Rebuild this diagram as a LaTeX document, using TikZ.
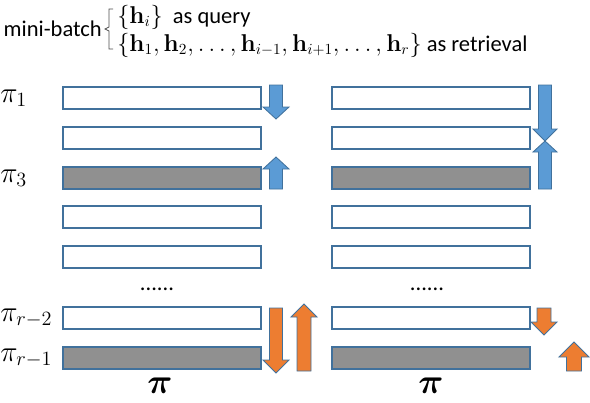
\documentclass[tikz,border=0pt]{standalone}
\usepackage{amsmath}
\usepackage{amssymb}
\usepackage{bm}
\usepackage[no-math]{fontspec}
\setmainfont{Carlito}
\usepackage{tikz}
\usetikzlibrary{positioning}
\definecolor{barblue}{RGB}{65,113,156}
\definecolor{arrowblue}{RGB}{91,155,213}
\definecolor{arroworange}{RGB}{237,125,49}
\definecolor{bargray}{RGB}{144,144,144}

% block arrow: style, x, y of tail, y of head base, y of tip, half shaft, half head
\newcommand{\blockarrow}[7]{%
  \draw[#1] (#2-#6,#3) -- (#2+#6,#3) -- (#2+#6,#4) -- (#2+#7,#4) -- (#2,#5)
    -- (#2-#7,#4) -- (#2-#6,#4) -- cycle;}

\begin{document}
\begin{tikzpicture}[
    x=0.025cm, y=-0.025cm,
    bar/.style={rectangle, draw=barblue, line width=1.4pt, fill=white, minimum width=4.95cm, minimum height=0.53cm, inner sep=0pt},
    dark/.style={bar, fill=bargray},
    perm/.style={font=\fontsize{21}{23}\selectfont, anchor=west, inner sep=0pt},
    txt/.style={font=\fontsize{16}{18}\selectfont, inner sep=0pt},
    barrow/.style={draw=barblue, line width=0.6pt, fill=arrowblue},
    oarrow/.style={draw=barblue, line width=0.6pt, fill=arroworange}
]
\useasboundingbox (0,0) rectangle (590,402);

% ============ mini-batch ============
\node[txt, anchor=east] (batch) at (102,29) {mini-batch};
\draw[black!70, line width=0.5pt] (113,9) -- (109,9) -- (109,27) -- (105,29) -- (109,31) -- (109,49) -- (113,49);
\node[txt, anchor=west] (query) at (117,17) {$\{\mathbf{h}_i\}$\ \ as query};
\node[txt, anchor=west] (retr) at (117,45) {$\{\mathbf{h}_1,\mathbf{h}_2,\ldots,\mathbf{h}_{i-1},\mathbf{h}_{i+1},\ldots,\mathbf{h}_r\}$ as retrieval};

% ============ labels ============
\node[perm] (p1) at (0,98) {$\pi_1$};
\node[perm] (p3) at (0,178) {$\pi_3$};
\node[perm] (pr2) at (0,318) {$\pi_{r-2}$};
\node[perm] (pr1) at (0,358) {$\pi_{r-1}$};

% ============ left ranking ============
\node[bar] (l1) at (162,98) {};
\node[bar] (l2) at (162,138) {};
\node[dark] (l3) at (162,178) {};
\node[bar] (l4) at (162,217) {};
\node[bar] (l5) at (162,257) {};
\node[txt] (ldots) at (157,289) {......};
\node[bar] (l6) at (162,318) {};
\node[dark] (l7) at (162,358) {};
\node[perm, anchor=center, font=\fontsize{23}{25}\selectfont] (lpi) at (160,386) {$\bm{\pi}$};

\blockarrow{barrow}{276}{85}{107}{119}{6.5}{13}
\blockarrow{barrow}{276}{189}{169}{157}{6.5}{13}
\blockarrow{oarrow}{276}{308}{360}{373}{6.5}{13}
\blockarrow{oarrow}{304}{371}{317}{304}{7}{13}

% ============ right ranking ============
\node[bar] (r1) at (431,98) {};
\node[bar] (r2) at (431,138) {};
\node[dark] (r3) at (431,178) {};
\node[bar] (r4) at (431,217) {};
\node[bar] (r5) at (431,257) {};
\node[txt] (rdots) at (427,289) {......};
\node[bar] (r6) at (431,318) {};
\node[dark] (r7) at (431,358) {};
\node[perm, anchor=center, font=\fontsize{23}{25}\selectfont] (rpi) at (431,386) {$\bm{\pi}$};

\blockarrow{barrow}{545}{85}{129}{141}{6.5}{12}
\blockarrow{barrow}{545}{189}{152}{141}{6.5}{12}
\blockarrow{oarrow}{544}{308}{322}{335}{7}{13}
\blockarrow{oarrow}{574}{371}{357}{342}{7.5}{15}

\end{tikzpicture}
\end{document}
